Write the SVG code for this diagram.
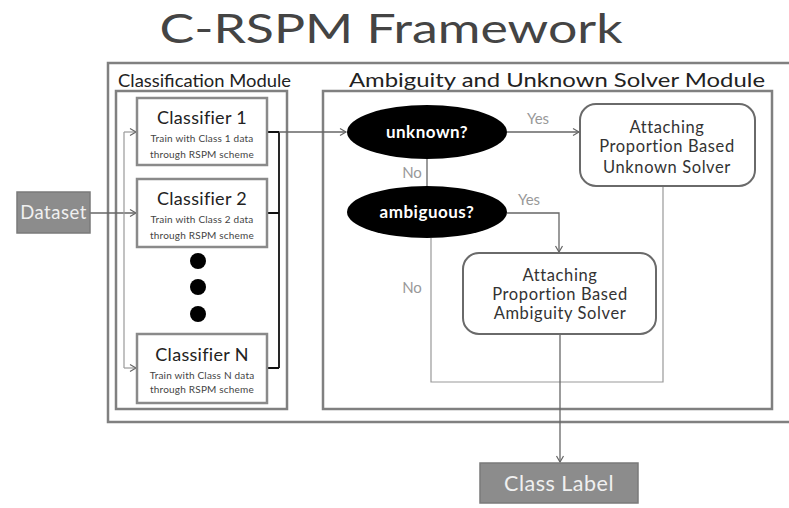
<svg xmlns="http://www.w3.org/2000/svg" width="789" height="508" viewBox="0 0 789 508">
<defs>
<marker id="arr" markerWidth="10" markerHeight="10" refX="8" refY="5" orient="auto" markerUnits="userSpaceOnUse">
<polyline points="2,1.5 8,5 2,8.5" fill="none" stroke="#666" stroke-width="1.2"/>
</marker>
<style>
text{font-family:"Lato","Open Sans","DejaVu Sans",sans-serif;}
.frame{fill:none;stroke:#808080;stroke-width:2.5;}
.cls{fill:#fff;stroke:#8a8a8a;stroke-width:2.5;}
.cname{font-size:18px;fill:#222;text-anchor:middle;letter-spacing:0.3px;}
.csub{font-size:10px;fill:#444;text-anchor:middle;letter-spacing:0.2px;}
.dot{fill:#000;}
.ell{fill:#000;}
.etext{font-size:17px;font-weight:bold;fill:#fff;text-anchor:middle;letter-spacing:0.5px;}
.solver{fill:#fff;stroke:#6a6a6a;stroke-width:2;}
.stext{font-size:16.5px;fill:#333;text-anchor:middle;letter-spacing:0.6px;}
.grey{fill:#8c8c8c;stroke:#7a7a7a;stroke-width:1.5;}
.gtext{fill:#f0f0f0;text-anchor:middle;letter-spacing:0.5px;}
.lbl{font-size:15px;fill:#999;text-anchor:middle;}
.thin{fill:none;stroke:#999;stroke-width:1.2;}
.line{fill:none;stroke:#666;stroke-width:1.3;}
.dark{fill:none;stroke:#111;stroke-width:1.8;}
</style>
</defs>
<rect width="789" height="508" fill="#fff"/>
<text x="391" y="43" font-size="40" fill="#444" text-anchor="middle" textLength="463" lengthAdjust="spacingAndGlyphs">C-RSPM Framework</text>

<g id="frame">
<path class="frame" d="M789,63 H108 V422 H789"/>
</g>

<g id="classification-module">
<rect class="frame" x="116" y="91" width="171" height="318"/>
<text x="118" y="87" font-size="17.5" fill="#222" textLength="173" lengthAdjust="spacingAndGlyphs">Classification Module</text>
</g>

<g id="ambiguity-module">
<rect class="frame" x="323" y="91" width="449" height="318"/>
<text x="349" y="87" font-size="18.5" fill="#222" textLength="416" lengthAdjust="spacingAndGlyphs">Ambiguity and Unknown Solver Module</text>
</g>

<g id="connectors">
<path class="line" d="M90,213 H136" marker-end="url(#arr)"/>
<path class="thin" d="M124,132 V368"/>
<path class="thin" d="M124,132 H136" marker-end="url(#arr)"/>
<path class="thin" d="M124,368 H136" marker-end="url(#arr)"/>
<path class="dark" d="M267,132 H279 M267,213 H279 M267,368 H279 M279,132 V368"/>
<path class="line" d="M279,132 H346" marker-end="url(#arr)"/>
<path class="line" d="M427,159 V186"/>
<path class="line" d="M507,132 H579" marker-end="url(#arr)"/>
<path class="line" d="M507,213 H559 V252" marker-end="url(#arr)"/>
<path class="thin" d="M431,238 V382 H663 V186"/>
<path class="line" d="M560,334 V462" marker-end="url(#arr)"/>
<text class="lbl" x="412" y="178">No</text>
<text class="lbl" x="538" y="124">Yes</text>
<text class="lbl" x="529" y="205">Yes</text>
<text class="lbl" x="412" y="293">No</text>
</g>

<g id="dataset">
<rect class="grey" x="17" y="192" width="73" height="41"/>
<text class="gtext" x="53.5" y="219" font-size="18.5">Dataset</text>
</g>

<g id="classifier-1">
<rect class="cls" x="137" y="98" width="130" height="67"/>
<text class="cname" x="202" y="124">Classifier 1</text>
<text class="csub" x="202" y="142">Train with Class 1 data</text>
<text class="csub" x="202" y="158">through RSPM scheme</text>
</g>

<g id="classifier-2">
<rect class="cls" x="137" y="179" width="130" height="68"/>
<text class="cname" x="202" y="205">Classifier 2</text>
<text class="csub" x="202" y="223">Train with Class 2 data</text>
<text class="csub" x="202" y="239">through RSPM scheme</text>
</g>

<g id="dots">
<circle class="dot" cx="198" cy="261" r="8"/>
<circle class="dot" cx="198" cy="287" r="8"/>
<circle class="dot" cx="198" cy="314" r="8"/>
</g>

<g id="classifier-n">
<rect class="cls" x="137" y="334" width="130" height="69"/>
<text class="cname" x="202" y="361">Classifier N</text>
<text class="csub" x="202" y="379">Train with Class N data</text>
<text class="csub" x="202" y="393">through RSPM scheme</text>
</g>

<g id="unknown">
<ellipse class="ell" cx="427" cy="132" rx="80" ry="27"/>
<text class="etext" x="427" y="138">unknown?</text>
</g>

<g id="ambiguous">
<ellipse class="ell" cx="427" cy="212" rx="80" ry="26"/>
<text class="etext" x="427" y="218">ambiguous?</text>
</g>

<g id="unknown-solver">
<rect class="solver" x="580" y="104" width="175" height="82" rx="16"/>
<text class="stext" x="667" y="133">Attaching</text>
<text class="stext" x="667" y="152">Proportion Based</text>
<text class="stext" x="667" y="173">Unknown Solver</text>
</g>

<g id="ambiguity-solver">
<rect class="solver" x="463" y="253" width="193" height="81" rx="16"/>
<text class="stext" x="560" y="281">Attaching</text>
<text class="stext" x="560" y="300">Proportion Based</text>
<text class="stext" x="560" y="319">Ambiguity Solver</text>
</g>

<g id="class-label">
<rect class="grey" x="480" y="463" width="158" height="40"/>
<text class="gtext" x="559" y="491" font-size="21.5">Class Label</text>
</g>
</svg>
